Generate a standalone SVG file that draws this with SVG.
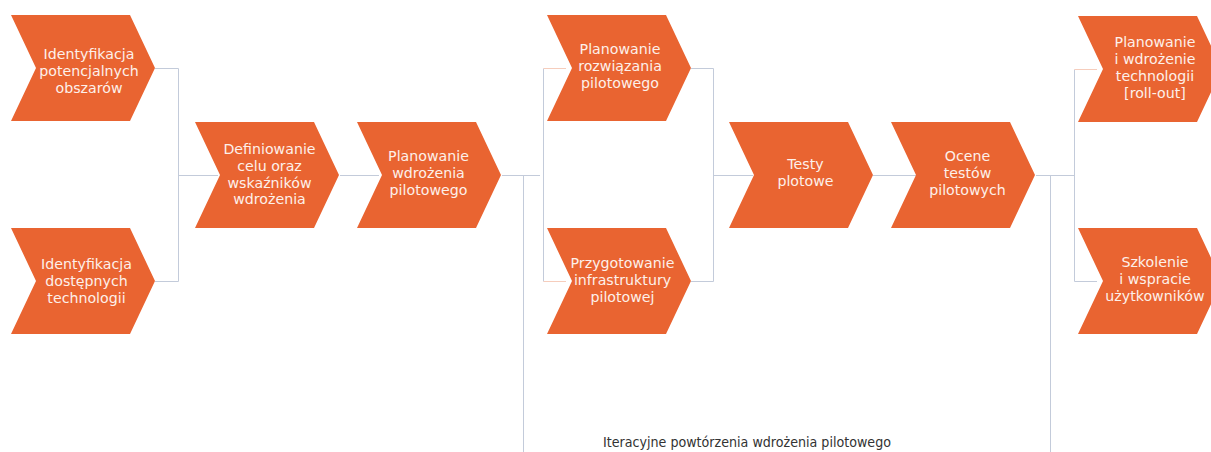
<svg xmlns="http://www.w3.org/2000/svg" xmlns:xlink="http://www.w3.org/1999/xlink" width="1211" height="452" viewBox="0 0 1211 452">
<style>
.chev{fill:#E96431;}
.lbl{font-family:"DejaVu Sans","Verdana",sans-serif;font-size:14.2px;fill:#FDF0EA;text-anchor:middle;}
.ln{fill:none;stroke:#C3CBDA;stroke-width:1;}
.lp{fill:none;stroke:#F6CDBC;stroke-width:1;}
.cap{font-family:"DejaVu Sans",sans-serif;font-stretch:condensed;font-size:13.5px;fill:#333333;}
</style>
<defs>
<path id="ch" d="M0,0 H119 L144,53 L119,106 H0 L25,53 Z"/>
</defs>
<rect width="1211" height="452" fill="#FFFFFF"/>
<g id="connectors">
<path class="ln" d="M155,68.5 H178.5 V281.5 H155"/>
<path class="ln" d="M178.5,175.5 H218"/>
<path class="ln" d="M340,175.5 H379"/>
<path class="ln" d="M502,175.5 H540"/>
<path class="ln" d="M523.5,175.5 V452"/>
<path class="ln" d="M543.5,68.5 V281.5"/>
<path class="lp" d="M543.5,68.5 H566 M543.5,281.5 H566"/>
<path class="ln" d="M691,68.5 H713.5 V281.5 H691"/>
<path class="ln" d="M713.5,175.5 H753"/>
<path class="ln" d="M873,175.5 H916"/>
<path class="ln" d="M1036,175.5 H1074"/>
<path class="ln" d="M1050.5,175.5 V452"/>
<path class="ln" d="M1074.5,69.5 V281.5 H1097"/>
<path class="lp" d="M1074.5,69.5 H1097"/>
</g>
<g id="n1"><use xlink:href="#ch" class="chev" transform="translate(11,15)"/>
<text class="lbl"><tspan x="89" y="58.5">Identyfikacja</tspan><tspan x="89" y="75.5">potencjalnych</tspan><tspan x="89" y="92.5">obszarów</tspan></text></g>
<g id="n2"><use xlink:href="#ch" class="chev" transform="translate(11,228)"/>
<text class="lbl"><tspan x="86.5" y="269">Identyfikacja</tspan><tspan x="86.5" y="286">dostępnych</tspan><tspan x="86.5" y="303">technologii</tspan></text></g>
<g id="n3"><use xlink:href="#ch" class="chev" transform="translate(195,122)"/>
<text class="lbl"><tspan x="269.5" y="154">Definiowanie</tspan><tspan x="269.5" y="171">celu oraz</tspan><tspan x="269.5" y="187.5">wskaźników</tspan><tspan x="269.5" y="204">wdrożenia</tspan></text></g>
<g id="n4"><use xlink:href="#ch" class="chev" transform="translate(357,122)"/>
<text class="lbl"><tspan x="428.5" y="161.3">Planowanie</tspan><tspan x="428.5" y="178.3">wdrożenia</tspan><tspan x="428.5" y="195.3">pilotowego</tspan></text></g>
<g id="n5"><use xlink:href="#ch" class="chev" transform="translate(547,15)"/>
<text class="lbl"><tspan x="620" y="54.3">Planowanie</tspan><tspan x="620" y="71.3">rozwiązania</tspan><tspan x="620" y="88.3">pilotowego</tspan></text></g>
<g id="n6"><use xlink:href="#ch" class="chev" transform="translate(547,228)"/>
<text class="lbl"><tspan x="622.5" y="268">Przygotowanie</tspan><tspan x="622.5" y="285">infrastruktury</tspan><tspan x="622.5" y="302">pilotowej</tspan></text></g>
<g id="n7"><use xlink:href="#ch" class="chev" transform="translate(729,122)"/>
<text class="lbl"><tspan x="805.5" y="169">Testy</tspan><tspan x="805.5" y="186">plotowe</tspan></text></g>
<g id="n8"><use xlink:href="#ch" class="chev" transform="translate(891,122)"/>
<text class="lbl"><tspan x="967.5" y="161.3">Ocene</tspan><tspan x="967.5" y="178.3">testów</tspan><tspan x="967.5" y="195.3">pilotowych</tspan></text></g>
<g id="n9"><use xlink:href="#ch" class="chev" transform="translate(1078,16)"/>
<text class="lbl"><tspan x="1155" y="46.5">Planowanie</tspan><tspan x="1155" y="63.5">i wdrożenie</tspan><tspan x="1155" y="80.5">technologii</tspan><tspan x="1155" y="97.5">[roll-out]</tspan></text></g>
<g id="n10"><use xlink:href="#ch" class="chev" transform="translate(1078,228)"/>
<text class="lbl"><tspan x="1155" y="266.5">Szkolenie</tspan><tspan x="1155" y="283.5">i wspracie</tspan><tspan x="1155" y="300.5">użytkowników</tspan></text></g>
<g id="caption"><text class="cap" x="603" y="446.5" textLength="288" lengthAdjust="spacingAndGlyphs">Iteracyjne powtórzenia wdrożenia pilotowego</text></g>
</svg>
